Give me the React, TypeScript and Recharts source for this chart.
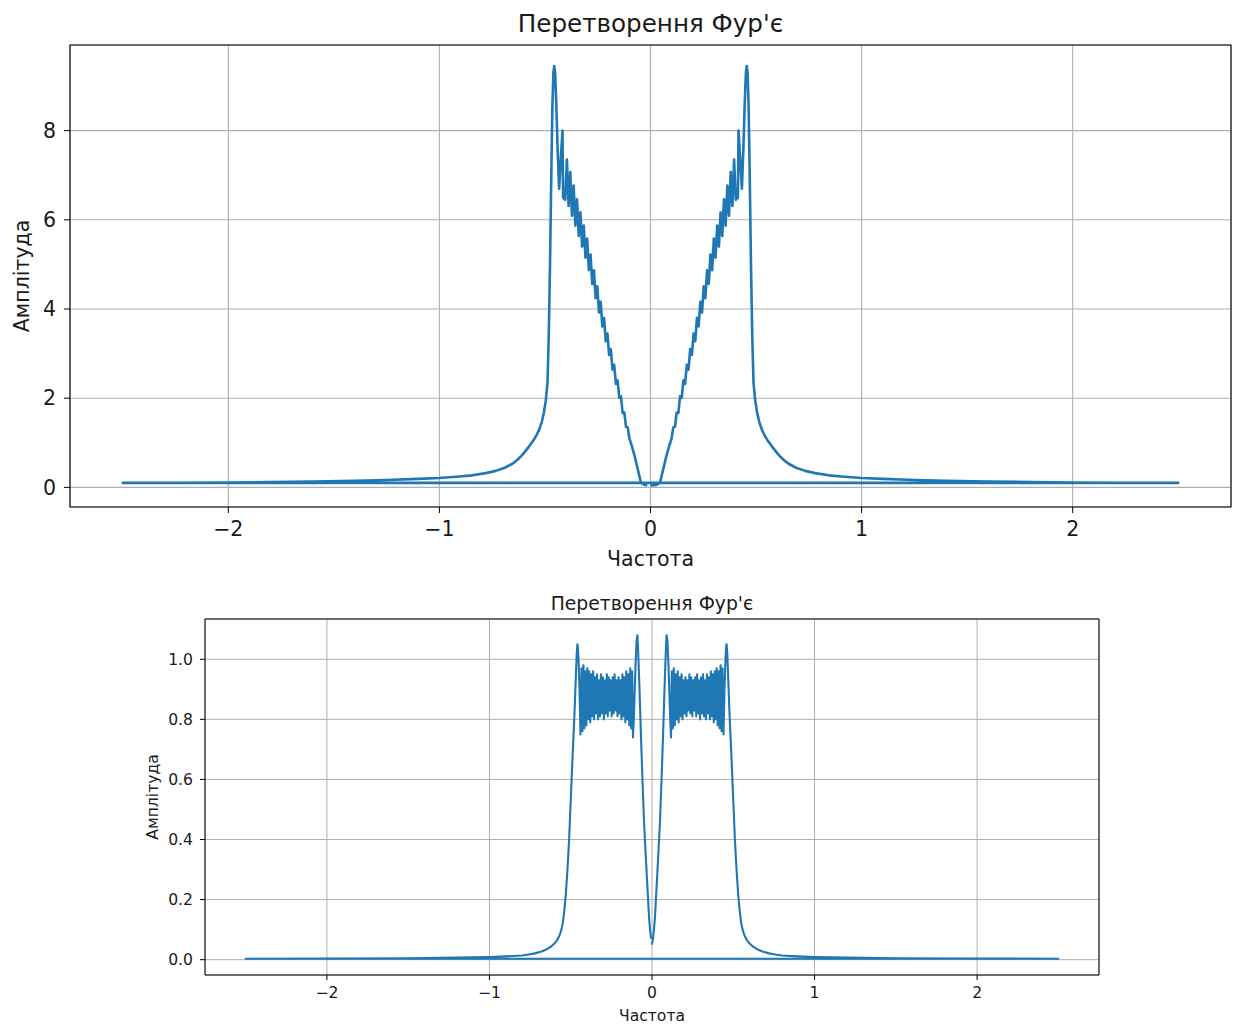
import React from 'react';
import { LineChart, Line, XAxis, YAxis, CartesianGrid, ReferenceArea } from 'recharts';

// ---- tick labels ----
const xTicks = [-2, -1, 0, 1, 2];
const topYTicks = [0, 2, 4, 6, 8];
const bottomYTicks = [0, 0.2, 0.4, 0.6, 0.8, 1.0];

// ---- texts ----
const titleText = "Перетворення Фур'є";
const xLabelText = 'Частота';
const yLabelText = 'Амплітуда';

// ---- top chart: positive frequencies (spectrum magnitude) ----
const topFreqPos = [
  0, 0.015, 0.03, 0.045, 0.06, 0.075, 0.09, 0.1,
  0.108, 0.116, 0.124, 0.132, 0.14, 0.148, 0.156, 0.164, 0.172, 0.18,
  0.188, 0.196, 0.204, 0.212, 0.22, 0.228, 0.236, 0.244, 0.252, 0.26,
  0.268, 0.276, 0.284, 0.292, 0.3, 0.308, 0.316, 0.324, 0.332, 0.34,
  0.348, 0.356, 0.364, 0.372, 0.38, 0.388, 0.396, 0.404, 0.414, 0.417,
  0.433, 0.44, 0.447, 0.452, 0.456, 0.46, 0.465, 0.47, 0.476, 0.482,
  0.488, 0.496, 0.505, 0.515, 0.527, 0.54, 0.555, 0.575, 0.59, 0.607,
  0.63, 0.654, 0.69, 0.733, 0.78, 0.844, 0.92, 1.0, 1.1, 1.25,
  1.4, 1.6, 1.8, 2.0, 2.25, 2.5,
];
const topAmpPos = [
  0.05, 0.05, 0.06, 0.1, 0.4, 0.7, 0.95, 1.1,
  1.35, 1.36, 1.68, 1.67, 2.04, 2.01, 2.4, 2.32, 2.75, 2.64,
  3.1, 2.97, 3.45, 3.28, 3.8, 3.61, 4.16, 3.92, 4.51, 4.24,
  4.87, 4.56, 5.22, 4.87, 5.58, 5.15, 5.87, 5.4, 6.17, 5.64,
  6.46, 5.87, 6.77, 6.09, 7.07, 6.31, 7.35, 6.45, 6.5, 8.0,
  6.7, 7.6, 8.7, 9.3, 9.45, 9.3, 8.5, 7.0, 5.0, 3.4,
  2.35, 1.95, 1.68, 1.47, 1.3, 1.17, 1.05, 0.92, 0.83, 0.73,
  0.62, 0.53, 0.44, 0.37, 0.32, 0.27, 0.24, 0.21, 0.19, 0.165,
  0.15, 0.13, 0.12, 0.11, 0.105, 0.1,
];

// ---- bottom chart: positive frequencies ----
const bottomFreqPos = [
  0, 0.006, 0.012, 0.018, 0.028, 0.039, 0.05, 0.06, 0.067, 0.074,
  0.08, 0.086, 0.09, 0.095, 0.1, 0.105, 0.109, 0.113, 0.117,
  0.122, 0.128, 0.134, 0.14, 0.146, 0.152, 0.158, 0.164, 0.17, 0.176,
  0.182, 0.188, 0.194, 0.2, 0.206, 0.212, 0.218, 0.224, 0.23, 0.236,
  0.242, 0.248, 0.254, 0.26, 0.266, 0.272, 0.278, 0.284, 0.29, 0.296,
  0.302, 0.308, 0.314, 0.32, 0.326, 0.332, 0.338, 0.344, 0.35, 0.356,
  0.362, 0.368, 0.374, 0.38, 0.386, 0.392, 0.398, 0.404, 0.41, 0.416,
  0.422, 0.428, 0.434, 0.44,
  0.446, 0.452, 0.456, 0.459, 0.463, 0.468, 0.474, 0.48, 0.49, 0.5,
  0.51, 0.52, 0.53, 0.54, 0.548, 0.555, 0.563, 0.571, 0.585, 0.6,
  0.623, 0.65, 0.68, 0.72, 0.76, 0.8, 0.9, 1.0, 1.2, 1.5,
  2.0, 2.5,
];
const bottomAmpPos = [
  0.05, 0.07, 0.1, 0.14, 0.24, 0.35, 0.47, 0.62, 0.73, 0.85,
  0.95, 1.04, 1.08, 1.06, 1.0, 0.92, 0.85, 0.79, 0.74,
  0.96, 0.77, 0.97, 0.78, 0.95, 0.8, 0.96, 0.79, 0.94, 0.81,
  0.95, 0.8, 0.93, 0.82, 0.94, 0.81, 0.93, 0.83, 0.95, 0.82,
  0.94, 0.81, 0.93, 0.83, 0.94, 0.81, 0.95, 0.82, 0.93, 0.8,
  0.94, 0.82, 0.95, 0.81, 0.93, 0.8, 0.95, 0.82, 0.94, 0.8,
  0.96, 0.81, 0.95, 0.79, 0.96, 0.8, 0.97, 0.78, 0.96, 0.77,
  0.98, 0.76, 0.97, 0.75,
  0.9, 1.0, 1.04, 1.05, 1.02, 0.95, 0.86, 0.78, 0.66, 0.53,
  0.4, 0.3, 0.22, 0.16, 0.125, 0.105, 0.09, 0.078, 0.064, 0.054,
  0.043, 0.034, 0.027, 0.021, 0.017, 0.014, 0.011, 0.009, 0.007, 0.005,
  0.004, 0.003,
];

// numpy fft ordering: 0 .. +fmax, then -fmax .. -df (the magnitude is mirror-symmetric)
function fftOrder(freq: number[], amp: number[]) {
  const pts: { x: number; y: number }[] = freq.map((f, i) => ({ x: f, y: amp[i] }));
  for (let i = freq.length - 1; i >= 1; i--) pts.push({ x: -freq[i], y: amp[i] });
  return pts;
}

const topData = fftOrder(topFreqPos, topAmpPos);
const bottomData = fftOrder(bottomFreqPos, bottomAmpPos);

const FONT = 'DejaVu Sans, sans-serif';
const TEXT = '#1a1a1a';
const BLUE = '#1f77b4';
const GRID = '#b0b0b0';

const TOP_FS = 20.5;
const TOP_TITLE_FS = 24.6;
const BOT_FS = 15.6;
const BOT_TITLE_FS = 18.8;

const minusFmt = (v: number) => String(v).replace('-', '\u2212');
const oneDec = (v: number) => v.toFixed(1).replace('-', '\u2212');

export default function App() {
  return (
    <div style={{ position: 'absolute', left: 0, top: 0, width: 1238, height: 1028, background: '#fff', fontFamily: FONT }}>
      <div style={{ position: 'absolute', left: 0, top: 0 }}>
        <LineChart width={1238} height={580} data={topData} margin={{ top: 45, right: 7, left: 0, bottom: 0 }}>
          <CartesianGrid stroke={GRID} strokeWidth={1.1} />
          <XAxis
            dataKey="x" type="number" domain={[-2.75, 2.75]} ticks={xTicks} interval={0}
            height={73} tickSize={6} tickMargin={8} axisLine={false}
            tickLine={{ stroke: '#000' }} tick={{ fill: TEXT, fontSize: TOP_FS, fontFamily: FONT }}
            tickFormatter={minusFmt} allowDataOverflow
          />
          <YAxis
            type="number" domain={[-0.44, 9.92]} ticks={topYTicks} interval={0}
            width={70} tickSize={6} tickMargin={8} axisLine={false}
            tickLine={{ stroke: '#000' }} tick={{ fill: TEXT, fontSize: TOP_FS, fontFamily: FONT }}
            tickFormatter={minusFmt} allowDataOverflow
          />
          <ReferenceArea x1={-2.75} x2={2.75} y1={-0.44} y2={9.92} fill="none" stroke="#000" strokeWidth={1.1} ifOverflow="visible" />
          <Line
            dataKey="y" type="linear" stroke={BLUE} strokeWidth={2.6} dot={false}
            isAnimationActive={false} strokeLinejoin="round"
          />
        </LineChart>
      </div>
      <div style={{ position: 'absolute', left: 0, top: 580 }}>
        <LineChart width={1238} height={448} data={bottomData} margin={{ top: 39, right: 139, left: 0, bottom: 0 }}>
          <CartesianGrid stroke={GRID} strokeWidth={1} />
          <XAxis
            dataKey="x" type="number" domain={[-2.75, 2.75]} ticks={xTicks} interval={0}
            height={53} tickSize={5} tickMargin={7} axisLine={false}
            tickLine={{ stroke: '#000' }} tick={{ fill: TEXT, fontSize: BOT_FS, fontFamily: FONT }}
            tickFormatter={minusFmt} allowDataOverflow
          />
          <YAxis
            type="number" domain={[-0.051, 1.134]} ticks={bottomYTicks} interval={0}
            width={205} tickSize={5} tickMargin={7} axisLine={false}
            tickLine={{ stroke: '#000' }} tick={{ fill: TEXT, fontSize: BOT_FS, fontFamily: FONT }}
            tickFormatter={oneDec} allowDataOverflow
          />
          <ReferenceArea x1={-2.75} x2={2.75} y1={-0.051} y2={1.134} fill="none" stroke="#000" strokeWidth={1} ifOverflow="visible" />
          <Line
            dataKey="y" type="linear" stroke={BLUE} strokeWidth={2.1} dot={false}
            isAnimationActive={false} strokeLinejoin="round"
          />
        </LineChart>
      </div>
      <svg width={1238} height={1028} style={{ position: 'absolute', left: 0, top: 0, pointerEvents: 'none' }}>
        <g fontFamily={FONT} fill={TEXT} textAnchor="middle">
          <text x={650.5} y={31.7} fontSize={TOP_TITLE_FS}>{titleText}</text>
          <text x={650.5} y={566} fontSize={TOP_FS}>{xLabelText}</text>
          <text transform="translate(29,276) rotate(-90)" fontSize={TOP_FS}>{yLabelText}</text>
          <text x={652} y={610} fontSize={BOT_TITLE_FS}>{titleText}</text>
          <text x={652} y={1021} fontSize={BOT_FS}>{xLabelText}</text>
          <text transform="translate(158,797) rotate(-90)" fontSize={BOT_FS}>{yLabelText}</text>
        </g>
      </svg>
    </div>
  );
}
